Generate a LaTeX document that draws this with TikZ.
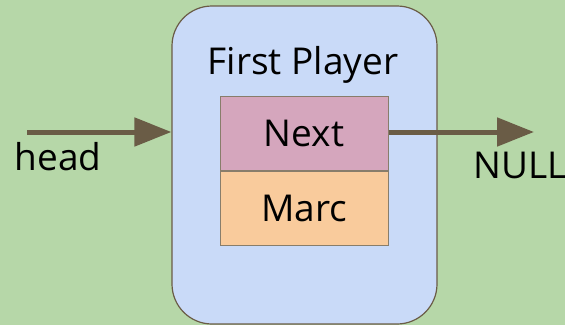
\documentclass[tikz,border=0pt]{standalone}
\usepackage{fontspec}
\setmainfont{Open Sans}
\usetikzlibrary{positioning,arrows.meta}

\definecolor{bggreen}{HTML}{B6D7A8}
\definecolor{nodeblue}{HTML}{C9DAF8}
\definecolor{fieldpink}{HTML}{D5A6BD}
\definecolor{fieldorange}{HTML}{F9CB9C}
\definecolor{linkbrown}{HTML}{6A5C46}

\begin{document}
\begin{tikzpicture}[
    x=1pt,y=1pt,
    listnode/.style={
      draw=linkbrown,line width=1.2pt,fill=nodeblue,
      rounded corners=40pt,minimum width=265pt,minimum height=318pt
    },
    field/.style={
      draw=linkbrown!80,line width=1pt,
      minimum width=168pt,minimum height=74pt,font=\fontsize{37}{40}\selectfont
    },
    link/.style={
      draw=linkbrown,line width=5pt,
      -{Triangle[length=37pt,width=28pt]}
    },
    label/.style={font=\fontsize{37}{40}\selectfont,inner sep=0pt}
  ]
    \fill[bggreen] (0,0) rectangle (565,325);
    \useasboundingbox (0,0) rectangle (565,325);

    % the player node with its two fields
    \node[listnode] (player) at (304.5,160) {};
    \node[label] (title) at (303,260) {First Player};
    \node[field,fill=fieldpink] (next) at (304,191.5) {Next};
    \node[field,fill=fieldorange,below=0pt of next] (name) {Marc};

    % head pointer and the link to nothing
    \coordinate (headstart) at (27,193);
    \coordinate (nullend) at (534,193);
    \draw[link] (headstart) -- (headstart -| player.west);
    \draw[link] (next.east |- nullend) -- (nullend);

    \node[label] (head) at (58,168) {head};
    \node[label,anchor=west] (null) at (473,160) {NULL};
  \end{tikzpicture}
\end{document}
